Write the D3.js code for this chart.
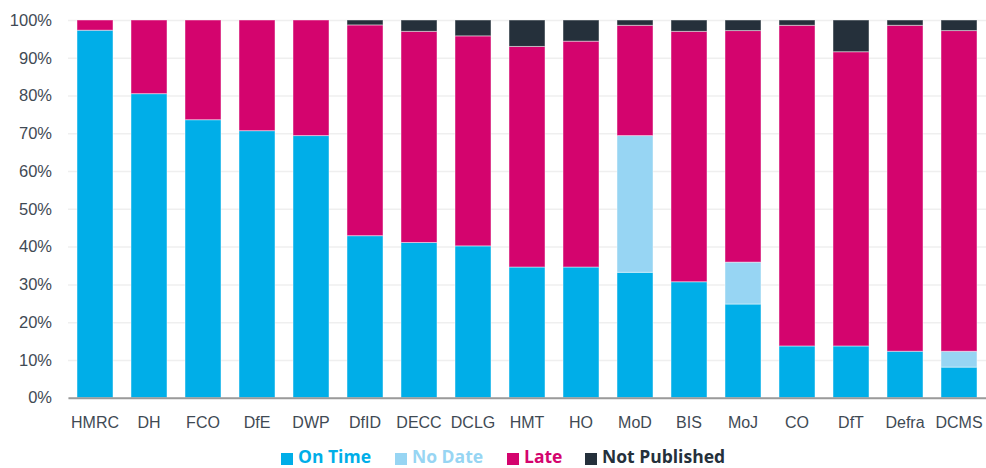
<!DOCTYPE html>
<html>
<head>
<meta charset="utf-8">
<script src="https://cdn.jsdelivr.net/npm/d3@7"></script>
<style>
  body { margin: 0; background: #fff; }
  svg { display: block; font-family: "Open Sans", sans-serif; }
</style>
</head>
<body>
<div id="chart"></div>
<script>
// Data (percent of each department's publications)
const departments = ['HMRC', 'DH', 'FCO', 'DfE', 'DWP', 'DfID', 'DECC', 'DCLG', 'HMT', 'HO', 'MoD', 'BIS', 'MoJ', 'CO', 'DfT', 'Defra', 'DCMS'];
const onTime       = [97.3, 80.5, 73.6, 70.7, 69.4, 42.9, 41.1, 40.2, 34.6, 34.6, 33.2, 30.7, 24.8, 13.7, 13.7, 12.3, 8.1];
const noDate       = [0, 0, 0, 0, 0, 0, 0, 0, 0, 0, 36.2, 0, 11.1, 0, 0, 0, 4.2];
const late         = [2.7, 19.5, 26.4, 29.3, 30.6, 55.8, 55.9, 55.6, 58.4, 59.8, 29.2, 66.3, 61.3, 84.9, 77.9, 86.3, 84.9];
const notPublished = [0, 0, 0, 0, 0, 1.3, 3.0, 4.2, 7.0, 5.6, 1.4, 3.0, 2.8, 1.4, 8.4, 1.4, 2.8];
const yTicks = [0, 10, 20, 30, 40, 50, 60, 70, 80, 90, 100];

const seriesNames = ['On Time', 'No Date', 'Late', 'Not Published'];
const colours = {
  'On Time': '#00aee8',
  'No Date': '#97d5f3',
  'Late': '#d4046e',
  'Not Published': '#25303b'
};

const w = 986;
const h = 468;
const margin = { top: 20, right: 0, bottom: 71, left: 68 };

const rows = departments.map((d, i) => ({
  dept: d,
  'On Time': onTime[i],
  'No Date': noDate[i],
  'Late': late[i],
  'Not Published': notPublished[i]
}));

const stacked = d3.stack().keys(seriesNames)(rows);

// Scales
const xScale = d3.scaleBand()
  .domain(departments)
  .range([margin.left, w - margin.right])
  .paddingInner(1 / 3)
  .paddingOuter(1 / 6);

const yScale = d3.scaleLinear()
  .domain([0, 100])
  .range([h - margin.bottom + 0.7, margin.top]);

const svg = d3.select('#chart')
  .append('svg')
  .attr('width', w)
  .attr('height', h);

// Gridlines + y axis
const yAxis = d3.axisLeft(yScale)
  .tickValues(yTicks)
  .tickFormat(d => d + '%')
  .tickSize(0 - (w - margin.left - margin.right))
  .tickPadding(16);

svg.append('g')
  .classed('y-axis', true)
  .attr('transform', `translate(${margin.left}, 0)`)
  .call(yAxis);

svg.select('.y-axis .domain').remove();

svg.selectAll('.y-axis .tick line')
  .attr('stroke', '#efefef')
  .attr('stroke-width', 1.5);

svg.selectAll('.y-axis .tick text')
  .attr('fill', '#3f4a54')
  .attr('font-size', 16.5);

// Bars
svg.append('g')
  .selectAll('g')
  .data(stacked)
  .join('g')
    .attr('fill', d => colours[d.key])
  .selectAll('rect')
  .data(d => d)
  .join('rect')
    .attr('x', d => xScale(d.data.dept))
    .attr('width', xScale.bandwidth())
    .attr('y', d => yScale(d[1]))
    .attr('height', d => Math.max(0, yScale(d[0]) - yScale(d[1])))
    .attr('stroke', 'rgba(255,255,255,0.45)')
    .attr('stroke-width', d => d[1] - d[0] > 0 ? 1 : 0);

// x axis
const xAxis = d3.axisBottom(xScale)
  .tickSize(0)
  .tickPadding(19);

svg.append('g')
  .classed('x-axis', true)
  .attr('transform', `translate(0, ${yScale(0)})`)
  .call(xAxis);

svg.select('.x-axis .domain')
  .attr('stroke', '#9a9a9a')
  .attr('stroke-width', 2);

svg.selectAll('.x-axis .tick text')
  .attr('fill', '#3f4a54')
  .attr('font-size', 16);

// Legend
const legendX = [281, 395, 507, 585];
const legend = svg.append('g')
  .attr('transform', 'translate(0, 457)');

const items = legend.selectAll('g')
  .data(seriesNames)
  .join('g')
    .attr('transform', (d, i) => `translate(${legendX[i]}, 0)`);

items.append('rect')
  .attr('x', 0)
  .attr('y', -4)
  .attr('width', 12)
  .attr('height', 12)
  .attr('fill', d => colours[d]);

items.append('text')
  .attr('x', 17)
  .attr('y', 6)
  .attr('font-size', 17.5)
  .attr('font-weight', 700)
  .attr('fill', d => colours[d])
  .text(d => d);
</script>
</body>
</html>
